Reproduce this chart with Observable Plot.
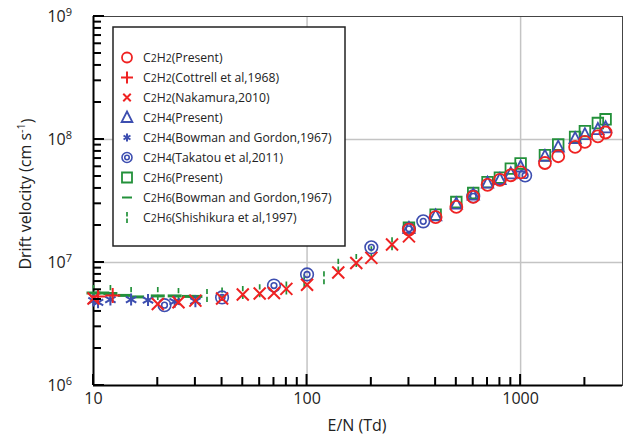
<!DOCTYPE html>
<html><head><meta charset="utf-8">
<script src="https://cdn.jsdelivr.net/npm/d3@7"></script>
<script src="https://cdn.jsdelivr.net/npm/@observablehq/plot@0.6"></script>
<style>body{margin:0;background:#fff;} svg{display:block;}</style>
</head><body><div id="chart"></div>
<script>
// ---- data: [E/N (Td), drift velocity (cm/s)] ----
const c2h2Present = [[300,1.85e7],[400,2.34e7],[500,2.83e7],[600,3.41e7],[700,4.28e7],[800,4.7e7],[900,5.12e7],[1000,5.4e7],[1300,6.44e7],[1500,7.31e7],[1800,8.7e7],[2000,9.56e7],[2300,1.06e8],[2500,1.14e8]];
const c2h2Cottrell = [[10.5,5.3e6],[12.3,5.4e6]];
const c2h2Nakamura = [[10,5.1e6],[20,4.6e6],[25,4.75e6],[30,4.9e6],[40,5.1e6],[50,5.5e6],[60,5.6e6],[70,5.65e6],[80,6.1e6],[100,6.6e6],[140,8.3e6],[170,9.9e6],[200,1.09e7],[250,1.4e7],[300,1.63e7]];
const c2h4Present = [[300,1.9e7],[400,2.4e7],[500,3.0e7],[600,3.55e7],[700,4.43e7],[800,4.75e7],[900,5.28e7],[1000,6.0e7],[1300,7.31e7],[1500,8.7e7],[1800,1.02e8],[2000,1.1e8],[2300,1.21e8],[2500,1.25e8]];
const c2h4Bowman = [[10,4.9e6],[10.5,4.75e6],[12,5.0e6],[15,5.0e6],[18,4.95e6],[24,4.8e6],[30,4.85e6]];
const c2h4Takatou = [[21.5,4.5e6],[40,5.2e6],[70,6.5e6],[100,8.0e6],[200,1.33e7],[300,1.88e7],[350,2.16e7],[600,3.45e7],[1050,5.1e7]];
const c2h6Present = [[300,1.92e7],[400,2.45e7],[500,3.1e7],[600,3.67e7],[700,4.5e7],[800,4.9e7],[900,5.8e7],[1000,6.38e7],[1300,7.45e7],[1500,9.1e7],[1800,1.05e8],[2000,1.17e8],[2300,1.36e8],[2500,1.46e8]];
const c2h6Bowman = [[10,5.65e6],[11,5.65e6],[12,5.6e6],[14,5.4e6],[16,5.25e6],[20,5.35e6],[24,5.35e6],[28,5.3e6],[30,5.3e6]];
const c2h6Shishikura = [[10,5.8e6],[12,5.8e6],[15,5.6e6],[20,5.6e6],[25,5.5e6],[34,5.4e6],[40,5.55e6],[50,5.7e6],[60,5.9e6],[80,6.2e6],[97,7.1e6],[120,7.5e6],[140,9.5e6],[170,1.04e7],[200,1.2e7],[250,1.42e7]];

const xMajor = [10, 100, 1000];
const xMinor = [20,30,40,50,60,70,80,90,200,300,400,500,600,700,800,900,2000];
const yMajor = [1e6, 1e7, 1e8, 1e9];
const yMinor = [2e6,3e6,4e6,5e6,6e6,7e6,8e6,9e6,2e7,3e7,4e7,5e7,6e7,7e7,8e7,9e7,2e8,3e8,4e8,5e8,6e8,7e8,8e8,9e8];
const yExponents = ["6", "7", "8", "9"];

const RED = "#ef2222", BLUE = "#3d4eb0", GREEN = "#23913a";
const FONT = "'Open Sans', sans-serif";

const W = 624, H = 438, ML = 93, MR = 2, MT = 16, MB = 53;

// ---- custom stroke symbols ----
const R = s => Math.sqrt(s / Math.PI);
const symCircle = {draw(c, s){const r=R(s); c.moveTo(r,0); c.arc(0,0,r,0,2*Math.PI);}};
const symDoubleCircle = {draw(c, s){const r=R(s); c.moveTo(r,0); c.arc(0,0,r,0,2*Math.PI); const q=r*0.45; c.moveTo(q,0); c.arc(0,0,q,0,2*Math.PI);}};
const symPlus = {draw(c, s){const r=R(s); c.moveTo(-r,0); c.lineTo(r,0); c.moveTo(0,-r); c.lineTo(0,r);}};
const symTimes = {draw(c, s){const r=R(s)*0.75; c.moveTo(-r,-r); c.lineTo(r,r); c.moveTo(-r,r); c.lineTo(r,-r);}};
const symTriangle = {draw(c, s){const r=R(s); c.moveTo(0,-r); c.lineTo(r*0.9,r*0.75); c.lineTo(-r*0.9,r*0.75); c.closePath();}};
const symAsterisk = {draw(c, s){const r=R(s); for (const a of [90, 30, 150]) {const t=a*Math.PI/180; c.moveTo(-r*Math.cos(t), -r*Math.sin(t)); c.lineTo(r*Math.cos(t), r*Math.sin(t));}}};
const symSquare = {draw(c, s){const r=R(s); c.moveTo(-r,-r); c.lineTo(r,-r); c.lineTo(r,r); c.lineTo(-r,r); c.closePath();}};
const symDash = {draw(c, s){const r=R(s); c.moveTo(-r,0); c.lineTo(r,0);}};
const symBroken = {draw(c, s){const r=R(s); c.moveTo(0,-r); c.lineTo(0,-r*0.2); c.moveTo(0,r*0.2); c.lineTo(0,r);}};

const series = [
  {data: c2h6Shishikura, sym: symBroken, r: 6.5, color: GREEN, sw: 1.7, f: "C2H6", ref: "(Shishikura et al,1997)", lr: 5.5},
  {data: c2h6Bowman, sym: symDash, r: 7, color: GREEN, sw: 3, f: "C2H6", ref: "(Bowman and Gordon,1967)", lr: 5},
  {data: c2h4Takatou, sym: symDoubleCircle, r: 6.3, color: BLUE, sw: 1.6, f: "C2H4", ref: "(Takatou et al,2011)", lr: 5},
  {data: c2h4Bowman, sym: symAsterisk, r: 6, color: BLUE, sw: 2, f: "C2H4", ref: "(Bowman and Gordon,1967)", lr: 4},
  {data: c2h6Present, sym: symSquare, r: 5.3, color: GREEN, sw: 1.8, f: "C2H6", ref: "(Present)", lr: 5},
  {data: c2h4Present, sym: symTriangle, r: 6.3, color: BLUE, sw: 1.8, f: "C2H4", ref: "(Present)", lr: 6},
  {data: c2h2Present, sym: symCircle, r: 6, color: RED, sw: 1.8, f: "C2H2", ref: "(Present)", lr: 5},
  {data: c2h2Nakamura, sym: symTimes, r: 8, color: RED, sw: 2, f: "C2H2", ref: "(Nakamura,2010)", lr: 5},
  {data: c2h2Cottrell, sym: symPlus, r: 7.5, color: RED, sw: 2, f: "C2H2", ref: "(Cottrell et al,1968)", lr: 6}
];
const legendOrder = [6, 8, 7, 5, 3, 2, 4, 1, 0];

const plot = Plot.plot({
  width: W, height: H,
  marginLeft: ML, marginRight: MR, marginTop: MT, marginBottom: MB,
  style: {fontFamily: FONT, background: "white"},
  x: {type: "log", domain: [10, 3000]},
  y: {type: "log", domain: [1e6, 1e9]},
  marks: [
    Plot.gridX(xMajor.slice(1), {stroke: "#c4c4c4", strokeOpacity: 1, strokeWidth: 1.5}),
    Plot.gridY(yMajor.slice(1, 3), {stroke: "#c4c4c4", strokeOpacity: 1, strokeWidth: 1.5}),
    Plot.frame({stroke: "#444", strokeWidth: 1}),
    Plot.axisX(xMajor, {tickSize: 0, tickPadding: 7, fontSize: 16, fill: "#222", label: null, tickFormat: d => String(d)}),
    Plot.axisY(yMajor, {tickSize: 0, tickFormat: () => "", label: null}),
    Plot.ruleX([10], {stroke: "#000", strokeWidth: 2}),
    Plot.ruleY([1e6], {stroke: "#000", strokeWidth: 2}),
    ...series.map(s => Plot.dot(s.data, {x: d => d[0], y: d => d[1], symbol: s.sym, r: s.r, stroke: s.color, strokeWidth: s.sw, fill: "none"}))
  ]
});
document.getElementById("chart").appendChild(plot);

const svg = d3.select(plot);
const xScale = plot.scale("x");
const yScale = plot.scale("y");
const x0 = xScale.apply(10), y0 = yScale.apply(1e6);

// inward tick marks, positioned through the plot's own scales
const tg = svg.append("g");
[[xMajor, 11], [xMinor, 8]].forEach(([vals, len]) => vals.forEach(v => {
  const px = xScale.apply(v);
  tg.append("line").attr("x1", px).attr("x2", px).attr("y1", y0).attr("y2", y0 - len)
    .attr("stroke", "#000").attr("stroke-width", 2);
}));
[[yMajor, 11], [yMinor, 8]].forEach(([vals, len]) => vals.forEach(v => {
  const py = yScale.apply(v);
  tg.append("line").attr("y1", py).attr("y2", py).attr("x1", x0).attr("x2", x0 + len)
    .attr("stroke", "#000").attr("stroke-width", 2);
}));

// y tick labels with superscript exponents
yMajor.forEach((v, i) => {
  const t = svg.append("text").attr("x", 72).attr("y", yScale.apply(v)).attr("dy", "0.35em")
    .attr("text-anchor", "end").attr("font-size", 16).attr("fill", "#222").attr("font-family", FONT);
  t.append("tspan").text("10");
  t.append("tspan").attr("font-size", 11).attr("dy", "-0.55em").text(yExponents[i]);
});

// axis titles
svg.append("text").attr("x", 357).attr("y", 425).attr("text-anchor", "middle").attr("dy", "0.35em")
  .attr("font-size", 16).attr("fill", "#222").attr("font-family", FONT).text("E/N (Td)");
const yt = svg.append("text").attr("transform", "translate(25,194) rotate(-90)").attr("text-anchor", "middle").attr("dy", "0.35em")
  .attr("font-size", 16).attr("fill", "#222").attr("font-family", FONT);
yt.append("tspan").text("Drift velocity (cm s");
yt.append("tspan").attr("font-size", 11).attr("dy", "-0.55em").text("-1");
yt.append("tspan").attr("dy", "0.55em").text(")");

// legend
const lg = svg.append("g");
lg.append("rect").attr("x", 113).attr("y", 27).attr("width", 232).attr("height", 219)
  .attr("fill", "white").attr("stroke", "#222").attr("stroke-width", 1.5);
legendOrder.forEach((idx, i) => {
  const s = series[idx];
  const y = 57.5 + i * 20;
  lg.append("path").attr("transform", `translate(127,${y})`)
    .attr("d", d3.symbol(s.sym, Math.PI * s.lr * s.lr)())
    .attr("fill", "none").attr("stroke", s.color).attr("stroke-width", Math.min(s.sw, 2));
  const t = lg.append("text").attr("x", 143).attr("y", y).attr("dy", "0.36em").attr("text-anchor", "start")
    .attr("font-size", 12.2).attr("fill", "#222").attr("font-family", FONT);
  for (const ch of s.f) {
    const sp = t.append("tspan").text(ch);
    if (/\d/.test(ch)) sp.attr("font-size", 10.5);
  }
  t.append("tspan").text(s.ref);
});
</script>
</body></html>
